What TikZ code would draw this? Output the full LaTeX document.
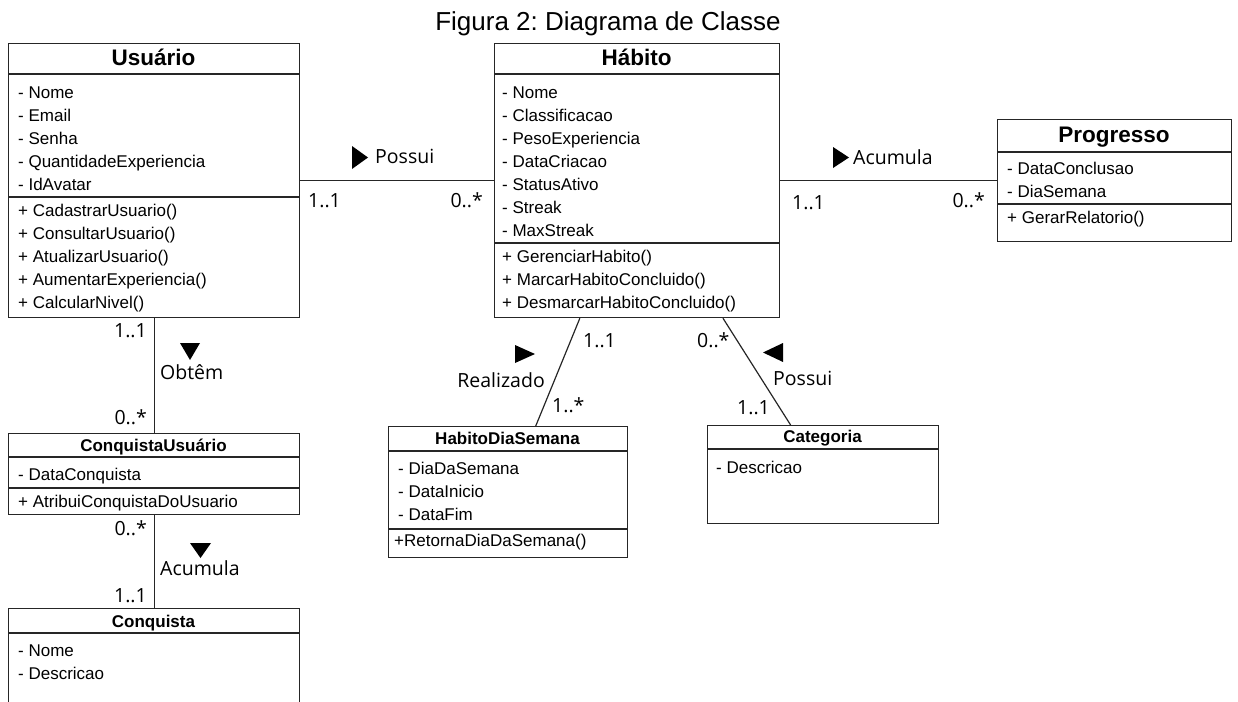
\documentclass[tikz,border=0pt]{standalone}
\usepackage{fontspec}
\setmainfont{Liberation Sans}
\newfontfamily\assocfont{Open Sans}
\usepackage{tikz}
\usetikzlibrary{positioning,calc}
\frenchspacing

\tikzset{
  classbox/.style={draw=black!85, line width=1.2pt, inner sep=0pt, anchor=north west},
  classname/.style={font=\bfseries\fontsize{22.5}{27}\selectfont, inner sep=0pt, anchor=base},
  smallname/.style={font=\bfseries\fontsize{17}{20}\selectfont, inner sep=0pt, anchor=base},
  member/.style={font=\fontsize{17}{20}\selectfont, inner sep=0pt, anchor=base west},
  assoc/.style={font=\assocfont\fontsize{19.5}{23}\selectfont, inner sep=0pt},
  link/.style={draw=black!85, line width=1.2pt}
}

\begin{document}
\begin{tikzpicture}[x=1pt, y=-1pt]
    \useasboundingbox (0,0) rectangle (1238,701);
    \clip (0,0) rectangle (1238,701);

    % Title
    \node[font=\fontsize{26}{30}\selectfont, inner sep=0pt, anchor=base] (title) at (608,31) {Figura 2: Diagrama de Classe};

    % Usuario
    \node[classbox, minimum width=291pt, minimum height=274pt] (usuario) at (8,43) {};
    \draw[link] ([yshift=-31pt]usuario.north west) -- ([yshift=-31pt]usuario.north east);
    \draw[link] ([yshift=-154pt]usuario.north west) -- ([yshift=-154pt]usuario.north east);
    \node[classname] (usuarioname) at (153.5,66) {Usuário};
    \foreach \t [count=\i] in {- Nome, - Email, - Senha, - QuantidadeExperiencia, - IdAvatar} {
      \node[member] (usr-a\i) at (18,{75+23*\i}) {\t};
    }
    \foreach \t [count=\i] in {+ CadastrarUsuario(), + ConsultarUsuario(), + AtualizarUsuario(), + AumentarExperiencia(), + CalcularNivel()} {
      \node[member] (usr-m\i) at (18,{193+23*\i}) {\t};
    }

    % Habito
    \node[classbox, minimum width=285pt, minimum height=274pt] (habito) at (494,43) {};
    \draw[link] ([yshift=-31pt]habito.north west) -- ([yshift=-31pt]habito.north east);
    \draw[link] ([yshift=-200pt]habito.north west) -- ([yshift=-200pt]habito.north east);
    \node[classname] (habitoname) at (636.5,66) {Hábito};
    \foreach \t [count=\i] in {- Nome, - Classificacao, - PesoExperiencia, - DataCriacao, - StatusAtivo, - Streak, - MaxStreak} {
      \node[member] (hab-a\i) at (502,{75+23*\i}) {\t};
    }
    \foreach \t [count=\i] in {+ GerenciarHabito(), + MarcarHabitoConcluido(), + DesmarcarHabitoConcluido()} {
      \node[member] (hab-m\i) at (502,{239+23*\i}) {\t};
    }

    % Progresso
    \node[classbox, minimum width=234pt, minimum height=122pt] (progresso) at (997,119) {};
    \draw[link] ([yshift=-33pt]progresso.north west) -- ([yshift=-33pt]progresso.north east);
    \draw[link] ([yshift=-85pt]progresso.north west) -- ([yshift=-85pt]progresso.north east);
    \node[classname] (progressoname) at (1114,142) {Progresso};
    \node[member] (prog-a1) at (1007,174) {- DataConclusao};
    \node[member] (prog-a2) at (1007,197) {- DiaSemana};
    \node[member] (prog-m1) at (1007,223) {+ GerarRelatorio()};

    % ConquistaUsuario
    \node[classbox, minimum width=291pt, minimum height=81pt] (conqusuario) at (8,433) {};
    \draw[link] ([yshift=-24pt]conqusuario.north west) -- ([yshift=-24pt]conqusuario.north east);
    \draw[link] ([yshift=-55pt]conqusuario.north west) -- ([yshift=-55pt]conqusuario.north east);
    \node[smallname] (conqusuarioname) at (153.5,451) {ConquistaUsuário};
    \node[member] (cu-a1) at (18,480) {- DataConquista};
    \node[member] (cu-m1) at (18,507) {+ AtribuiConquistaDoUsuario};

    % Conquista (runs past the bottom edge)
    \node[classbox, minimum width=291pt, minimum height=110pt] (conquista) at (8,608) {};
    \draw[link] ([yshift=-25pt]conquista.north west) -- ([yshift=-25pt]conquista.north east);
    \node[smallname] (conquistaname) at (153.5,627) {Conquista};
    \node[member] (cq-a1) at (18,656) {- Nome};
    \node[member] (cq-a2) at (18,679) {- Descricao};

    % HabitoDiaSemana
    \node[classbox, minimum width=239pt, minimum height=131pt] (hds) at (388,426) {};
    \draw[link] ([yshift=-25pt]hds.north west) -- ([yshift=-25pt]hds.north east);
    \draw[link] ([yshift=-103pt]hds.north west) -- ([yshift=-103pt]hds.north east);
    \node[smallname] (hdsname) at (507.5,444) {HabitoDiaSemana};
    \foreach \t [count=\i] in {- DiaDaSemana, - DataInicio, - DataFim} {
      \node[member] (hds-a\i) at (398,{451+23*\i}) {\t};
    }
    \node[member] (hds-m1) at (394,546) {+RetornaDiaDaSemana()};

    % Categoria
    \node[classbox, minimum width=231pt, minimum height=98pt] (categoria) at (707,425) {};
    \draw[link] ([yshift=-24pt]categoria.north west) -- ([yshift=-24pt]categoria.north east);
    \node[smallname] (categorianame) at (822.5,442) {Categoria};
    \node[member] (cat-a1) at (716,473) {- Descricao};

    % Associations
    \draw[link] (usuario.east) -- (habito.west);
    \draw[link] (habito.east) -- (progresso.west);
    \draw[link] (usuario.south) -- (conqusuario.north);
    \draw[link] (conqusuario.south) -- (conquista.north);
    \draw[link] ($(habito.south west)!0.30!(habito.south east)$) -- ($(hds.north west)!0.615!(hds.north east)$);
    \draw[link] ($(habito.south west)!0.80!(habito.south east)$) -- ($(categoria.north west)!0.36!(categoria.north east)$);

    % Usuario - Habito
    \fill (352,146) -- (368,157.5) -- (352,169) -- cycle;
    \node[assoc, anchor=base west] (possuiA) at (375,163) {Possui};
    \node[assoc, anchor=base west] (multA1) at (308,207) {1..1};
    \node[assoc, anchor=base east] (multA2) at (483,207) {0..*};

    % Habito - Progresso
    \fill (833,147) -- (849,157.5) -- (833,168) -- cycle;
    \node[assoc, anchor=base west] (acumulaB) at (853,164) {Acumula};
    \node[assoc, anchor=base west] (multB1) at (792,209) {1..1};
    \node[assoc, anchor=base east] (multB2) at (985,207) {0..*};

    % Usuario - ConquistaUsuario
    \fill (180,343) -- (200,343) -- (190,360) -- cycle;
    \node[assoc, anchor=base west] (obtem) at (160,379) {Obtêm};
    \node[assoc, anchor=base east] (multC1) at (147,337) {1..1};
    \node[assoc, anchor=base east] (multC2) at (147,424) {0..*};

    % ConquistaUsuario - Conquista
    \fill (190,543) -- (211,543) -- (200.5,558) -- cycle;
    \node[assoc, anchor=base west] (acumulaD) at (160,575) {Acumula};
    \node[assoc, anchor=base east] (multD1) at (147,535) {0..*};
    \node[assoc, anchor=base east] (multD2) at (147,602) {1..1};

    % Habito - HabitoDiaSemana
    \fill (515,345) -- (535,354) -- (515,363) -- cycle;
    \node[assoc, anchor=base east] (realizado) at (545,387) {Realizado};
    \node[assoc, anchor=base west] (multE1) at (583,347) {1..1};
    \node[assoc, anchor=base west] (multE2) at (552,412) {1..*};

    % Habito - Categoria
    \fill (783,343) -- (763,352.5) -- (783,362) -- cycle;
    \node[assoc, anchor=base west] (possuiF) at (773,385) {Possui};
    \node[assoc, anchor=base west] (multF1) at (697,347) {0..*};
    \node[assoc, anchor=base west] (multF2) at (737,414) {1..1};
\end{tikzpicture}
\end{document}
